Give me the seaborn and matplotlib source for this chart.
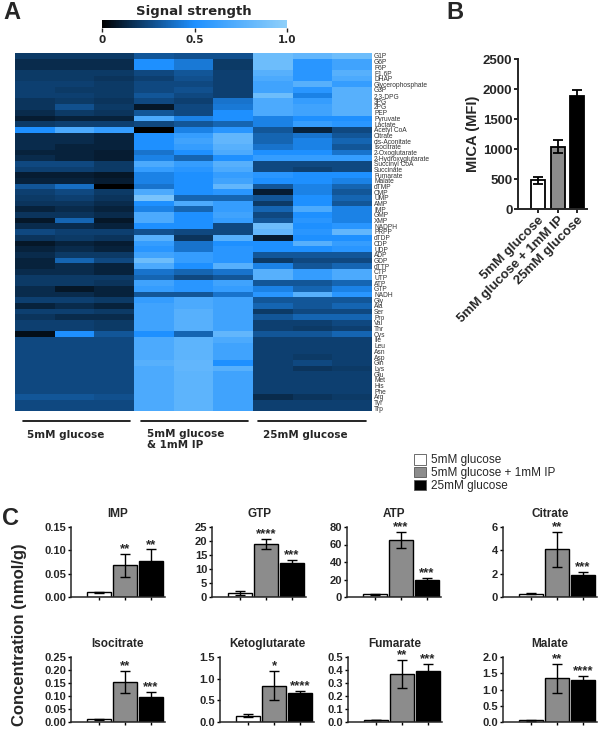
import numpy as np
import pandas as pd
import matplotlib
matplotlib.use("Agg")
import matplotlib.pyplot as plt
import seaborn as sns
from matplotlib.colors import LinearSegmentedColormap
from matplotlib.lines import Line2D
from matplotlib.patches import Patch

sns.set_theme(style="ticks")
plt.rcParams['font.family'] = ['Liberation Sans', 'DejaVu Sans']

# ---------------- data ----------------
metabolites = ["G1P", "G6P", "F6P", "F1,6P", "DHAP", "Glycerophosphate", "G3P", "2,3-DPG",
               "3PG", "2PG", "PEP", "Pyruvate", "Lactate", "Acetyl CoA", "Citrate",
               "cis-Aconitate", "Isocitrate", "2-Oxoglutarate", "2-Hydroxyglutarate",
               "Succinyl CoA", "Succinate", "Fumarate", "Malate", "dTMP", "CMP", "UMP", "AMP",
               "IMP", "GMP", "XMP", "NADPH", "PRPP", "dTDP", "CDP", "UDP", "ADP", "GDP", "dTTP",
               "CTP", "UTP", "ATP", "GTP", "NADH", "Gly", "Ala", "Ser", "Pro", "Val", "Thr",
               "Cys", "Ile", "Leu", "Asn", "Asp", "Gln", "Lys", "Glu", "Met", "His", "Phe",
               "Arg", "Tyr", "Trp"]

# signal strength, three replicates per condition
glc5 = [(0.2, 0.2, 0.2), (0.15, 0.15, 0.15), (0.15, 0.15, 0.15), (0.2, 0.2, 0.2),
        (0.2, 0.2, 0.18), (0.22, 0.22, 0.2), (0.22, 0.2, 0.2), (0.22, 0.22, 0.2),
        (0.18, 0.2, 0.18), (0.18, 0.28, 0.2), (0.15, 0.2, 0.18), (0.1, 0.12, 0.12),
        (0.2, 0.22, 0.22), (0.5, 0.7, 0.6), (0.15, 0.15, 0.12), (0.15, 0.15, 0.12),
        (0.15, 0.12, 0.12), (0.12, 0.12, 0.1), (0.15, 0.12, 0.1), (0.25, 0.25, 0.2),
        (0.22, 0.22, 0.2), (0.1, 0.1, 0.08), (0.12, 0.12, 0.1), (0.3, 0.38, 0.0),
        (0.22, 0.25, 0.2), (0.2, 0.22, 0.18), (0.18, 0.18, 0.15), (0.12, 0.15, 0.12),
        (0.18, 0.18, 0.15), (0.08, 0.35, 0.08), (0.15, 0.15, 0.12), (0.25, 0.22, 0.22),
        (0.18, 0.2, 0.18), (0.08, 0.12, 0.1), (0.12, 0.15, 0.12), (0.15, 0.2, 0.2),
        (0.12, 0.35, 0.25), (0.12, 0.15, 0.12), (0.15, 0.15, 0.12), (0.2, 0.2, 0.2),
        (0.2, 0.2, 0.18), (0.15, 0.08, 0.12), (0.15, 0.15, 0.12), (0.22, 0.22, 0.2),
        (0.12, 0.15, 0.12), (0.22, 0.22, 0.2), (0.18, 0.15, 0.15), (0.22, 0.22, 0.2),
        (0.22, 0.22, 0.2), (0.05, 0.5, 0.3), (0.25, 0.25, 0.25), (0.25, 0.25, 0.25),
        (0.25, 0.25, 0.25), (0.25, 0.25, 0.25), (0.25, 0.25, 0.25), (0.25, 0.25, 0.25),
        (0.25, 0.25, 0.25), (0.25, 0.25, 0.25), (0.25, 0.25, 0.25), (0.25, 0.25, 0.25),
        (0.3, 0.3, 0.28), (0.25, 0.25, 0.25), (0.25, 0.25, 0.25)]

glc5_ip = [(0.3, 0.28, 0.28), (0.5, 0.42, 0.2), (0.5, 0.42, 0.2), (0.25, 0.3, 0.22),
           (0.22, 0.28, 0.22), (0.25, 0.25, 0.22), (0.25, 0.28, 0.22), (0.3, 0.25, 0.22),
           (0.25, 0.22, 0.4), (0.08, 0.25, 0.42), (0.3, 0.25, 0.5), (0.7, 0.45, 0.5),
           (0.25, 0.3, 0.35), (0.0, 0.45, 0.55), (0.5, 0.6, 0.8), (0.5, 0.65, 0.8),
           (0.5, 0.6, 0.75), (0.4, 0.5, 0.7), (0.45, 0.35, 0.5), (0.7, 0.6, 0.75),
           (0.6, 0.55, 0.7), (0.45, 0.5, 0.6), (0.45, 0.5, 0.65), (0.4, 0.5, 0.8),
           (0.7, 0.5, 0.55), (0.9, 0.35, 0.35), (0.5, 0.7, 0.6), (0.45, 0.35, 0.6),
           (0.7, 0.5, 0.65), (0.7, 0.5, 0.6), (0.5, 0.5, 0.25), (0.28, 0.25, 0.25),
           (0.75, 0.18, 0.75), (0.6, 0.4, 0.5), (0.55, 0.4, 0.55), (0.65, 0.6, 0.55),
           (0.85, 0.6, 0.55), (0.7, 0.5, 0.75), (0.4, 0.35, 0.4), (0.35, 0.25, 0.3),
           (0.65, 0.55, 0.65), (0.6, 0.55, 0.6), (0.3, 0.3, 0.4), (0.6, 0.7, 0.65),
           (0.65, 0.7, 0.65), (0.65, 0.75, 0.65), (0.65, 0.75, 0.65), (0.65, 0.75, 0.65),
           (0.65, 0.75, 0.65), (0.5, 0.35, 0.8), (0.7, 0.78, 0.7), (0.7, 0.78, 0.65),
           (0.7, 0.78, 0.65), (0.7, 0.78, 0.65), (0.75, 0.8, 0.5), (0.7, 0.8, 0.75),
           (0.7, 0.78, 0.65), (0.7, 0.78, 0.65), (0.7, 0.78, 0.65), (0.7, 0.78, 0.65),
           (0.7, 0.78, 0.65), (0.7, 0.78, 0.65), (0.7, 0.78, 0.65)]

glc25 = [(0.85, 0.8, 0.85), (0.85, 0.55, 0.65), (0.85, 0.55, 0.65), (0.75, 0.55, 0.75),
         (0.7, 0.55, 0.7), (0.65, 0.75, 0.6), (0.65, 0.55, 0.75), (0.85, 0.45, 0.75),
         (0.7, 0.6, 0.75), (0.7, 0.65, 0.75), (0.7, 0.65, 0.75), (0.45, 0.5, 0.5),
         (0.45, 0.6, 0.55), (0.3, 0.12, 0.25), (0.35, 0.4, 0.3), (0.35, 0.45, 0.35),
         (0.4, 0.45, 0.3), (0.5, 0.5, 0.4), (0.6, 0.6, 0.6), (0.25, 0.25, 0.25),
         (0.25, 0.22, 0.25), (0.55, 0.5, 0.5), (0.5, 0.5, 0.45), (0.3, 0.45, 0.35),
         (0.1, 0.45, 0.3), (0.3, 0.5, 0.35), (0.2, 0.5, 0.3), (0.35, 0.7, 0.45),
         (0.25, 0.5, 0.45), (0.3, 0.55, 0.45), (0.85, 0.5, 0.55), (0.8, 0.55, 0.8),
         (0.1, 0.5, 0.5), (0.5, 0.75, 0.6), (0.5, 0.5, 0.55), (0.3, 0.3, 0.3),
         (0.2, 0.25, 0.25), (0.45, 0.3, 0.35), (0.75, 0.6, 0.7), (0.75, 0.6, 0.7),
         (0.3, 0.3, 0.35), (0.45, 0.35, 0.45), (0.55, 0.75, 0.55), (0.3, 0.3, 0.3),
         (0.35, 0.3, 0.35), (0.2, 0.25, 0.25), (0.3, 0.35, 0.35), (0.22, 0.22, 0.25),
         (0.22, 0.2, 0.22), (0.3, 0.3, 0.35), (0.22, 0.22, 0.22), (0.22, 0.22, 0.22),
         (0.22, 0.22, 0.22), (0.22, 0.2, 0.22), (0.22, 0.25, 0.22), (0.22, 0.18, 0.2),
         (0.22, 0.22, 0.22), (0.22, 0.22, 0.22), (0.22, 0.22, 0.22), (0.22, 0.22, 0.22),
         (0.15, 0.18, 0.2), (0.22, 0.22, 0.22), (0.22, 0.22, 0.22)]

cbar_ticks = [0, 0.5, 1.0]
cbar_ticklabels = ["0", "0.5", "1.0"]

# panel B
mica_groups = ["5mM glucose", "5mM glucose + 1mM IP", "25mM glucose"]
mica_mfi = [480, 1040, 1880]
mica_err = [60, 110, 110]

# panel C
conc_titles = ["IMP", "GTP", "ATP", "Citrate", "Isocitrate", "Ketoglutarate", "Fumarate", "Malate"]
conc_means = [[0.010, 0.068, 0.078], [1.5, 19.0, 12.2], [3.0, 65.0, 20.0], [0.30, 4.1, 1.9],
              [0.010, 0.153, 0.098], [0.15, 0.84, 0.68], [0.015, 0.37, 0.395], [0.05, 1.35, 1.28]]
conc_errs = [[0.001, 0.025, 0.024], [0.8, 1.8, 1.0], [0.8, 9.5, 2.0], [0.05, 1.5, 0.25],
             [0.002, 0.043, 0.016], [0.04, 0.33, 0.04], [0.002, 0.105, 0.055], [0.005, 0.45, 0.13]]
conc_stars = [["", "**", "**"], ["", "****", "***"], ["", "***", "***"], ["", "**", "***"],
              ["", "**", "***"], ["", "*", "****"], ["", "**", "***"], ["", "**", "****"]]
conc_yticks = [[0, 0.05, 0.10, 0.15], [0, 5, 10, 15, 20, 25], [0, 20, 40, 60, 80], [0, 2, 4, 6],
               [0, 0.05, 0.10, 0.15, 0.20, 0.25], [0, 0.5, 1.0, 1.5], [0, 0.1, 0.2, 0.3, 0.4, 0.5],
               [0, 0.5, 1.0, 1.5, 2.0]]
conc_decimals = [2, 0, 0, 0, 2, 1, 1, 1]
bar_colors = ["white", "#8c8c8c", "black"]

# ---------------- figure ----------------
W, H = 600, 729
fig = plt.figure(figsize=(W / 100, H / 100), dpi=100)


def px_axes(x0, y0, x1, y1):
    return fig.add_axes([x0 / W, 1 - y1 / H, (x1 - x0) / W, (y1 - y0) / H])


def px_text(x, y, s, **kw):
    return fig.text(x / W, 1 - y / H, s, **kw)


def px_line(x0, x1, y, **kw):
    fig.add_artist(Line2D([x0 / W, x1 / W], [1 - y / H, 1 - y / H], **kw))


# ---- panel A: heatmap ----
cmap = LinearSegmentedColormap.from_list("sig", ["#000000", "#1e90ff", "#8fd0fa"])
heat = pd.DataFrame(np.hstack([np.array(glc5), np.array(glc5_ip), np.array(glc25)]),
                    index=metabolites)
ax_h = px_axes(15, 53, 372, 411)
cax = px_axes(102, 20, 287, 28)
sns.heatmap(heat, ax=ax_h, cmap=cmap, vmin=0, vmax=1, cbar_ax=cax,
            cbar_kws={"orientation": "horizontal", "ticks": cbar_ticks},
            xticklabels=False, yticklabels=True)
ax_h.yaxis.tick_right()
ax_h.tick_params(axis="y", length=0, labelsize=4.8, pad=1.5, labelcolor="#333333")
for t in ax_h.get_yticklabels():
    t.set_rotation(0)
cax.set_xticklabels(cbar_ticklabels, fontweight="bold", family="DejaVu Sans", fontsize=7.5)
cax.tick_params(axis="x", length=3, width=1, pad=2)
px_text(194, 11, "Signal strength", ha="center", va="center", fontweight="bold",
        family="DejaVu Sans", fontsize=9.5)

for x0, x1 in [(23, 130), (141, 248), (258, 366)]:
    px_line(x0, x1, 421, color="black", lw=1.2)
px_text(27, 435, "5mM glucose", va="center", fontweight="bold", family="DejaVu Sans", fontsize=7.5)
px_text(147, 429, "5mM glucose\n& 1mM IP", va="top", fontweight="bold", family="DejaVu Sans",
        fontsize=7.5, linespacing=1.1)
px_text(263, 435, "25mM glucose", va="center", fontweight="bold", family="DejaVu Sans", fontsize=7.5)

# ---- panel B ----
ax_b = px_axes(518, 59, 587, 209)
sns.barplot(x=mica_groups, y=mica_mfi, hue=mica_groups, palette=bar_colors, saturation=1,
            width=0.72, edgecolor="black", linewidth=1.3, legend=False, ax=ax_b)
ax_b.errorbar(range(3), mica_mfi, yerr=mica_err, fmt="none", ecolor="black",
              elinewidth=1.3, capsize=3.5, capthick=1.3)
ax_b.set_xlim(-1.03, 2.5)
ax_b.set_ylim(0, 2500)
ax_b.set_yticks([0, 500, 1000, 1500, 2000, 2500])
sns.despine(ax=ax_b)
for s in ["left", "bottom"]:
    ax_b.spines[s].set_linewidth(1.4)
ax_b.tick_params(length=3, width=1.2, pad=1, labelsize=9.5, color="black")
for t in ax_b.get_yticklabels():
    t.set_fontweight("bold")
ax_b.set_xticks(range(3))
ax_b.set_xticklabels(mica_groups, rotation=45, ha="right", rotation_mode="anchor",
                     fontweight="bold", fontsize=9.5)
ax_b.set_ylabel("MICA (MFI)", fontweight="bold", fontsize=10.5, labelpad=2)
ax_b.set_xlabel("")

# ---- panel C ----
c_lefts = [[71, 212, 347, 503], [71, 220, 348, 503]]
c_rows = [(527, 597), (657, 722)]
for i, name in enumerate(conc_titles):
    r, c = divmod(i, 4)
    x0 = c_lefts[r][c]
    ax = px_axes(x0, c_rows[r][0], x0 + 94, c_rows[r][1])
    sns.barplot(x=mica_groups, y=conc_means[i], hue=mica_groups, palette=bar_colors,
                saturation=1, width=0.92, edgecolor="black", linewidth=1.0, legend=False, ax=ax)
    ax.errorbar(range(3), conc_means[i], yerr=conc_errs[i], fmt="none", ecolor="black",
                elinewidth=1.0, capsize=3.5, capthick=1.0)
    top = conc_yticks[i][-1]
    ax.set_ylim(0, top)
    ax.set_xlim(-1.1, 2.55)
    ax.set_yticks(conc_yticks[i])
    ax.set_yticklabels([f"{v:.{conc_decimals[i]}f}" for v in conc_yticks[i]],
                       fontweight="bold", fontsize=8)
    ax.set_xticks(range(3))
    ax.set_xticklabels([])
    ax.set_xlabel("")
    ax.set_ylabel("")
    sns.despine(ax=ax)
    for s in ["left", "bottom"]:
        ax.spines[s].set_linewidth(1.1)
    ax.tick_params(length=2.5, width=1, pad=1, color="black")
    ax.set_title(name, fontweight="bold", fontsize=8.5, pad=7)
    for k in range(3):
        if conc_stars[i][k]:
            ax.text(k, conc_means[i][k] + conc_errs[i][k] - 0.02 * top, conc_stars[i][k],
                    ha="center", va="bottom", fontweight="bold", fontsize=9.5, clip_on=False)

px_text(20, 635, "Concentration (nmol/g)", rotation=90, ha="center", va="center",
        fontweight="bold", fontsize=12)

fig.legend(handles=[Patch(facecolor=col, edgecolor="#555555", lw=0.6) for col in bar_colors],
           labels=mica_groups, loc="upper left", bbox_to_anchor=(414 / W, 1 - 454 / H),
           frameon=False, fontsize=8.5, handlelength=1.0, handleheight=1.0,
           handletextpad=0.4, labelspacing=0.05, borderpad=0, borderaxespad=0)

# panel letters
px_text(3, 1, "A", va="top", fontweight="bold", fontsize=17)
px_text(446, 1, "B", va="top", fontweight="bold", fontsize=17)
px_text(2, 507, "C", va="top", fontweight="bold", fontsize=17)

fig.savefig("out.png", dpi=100)
